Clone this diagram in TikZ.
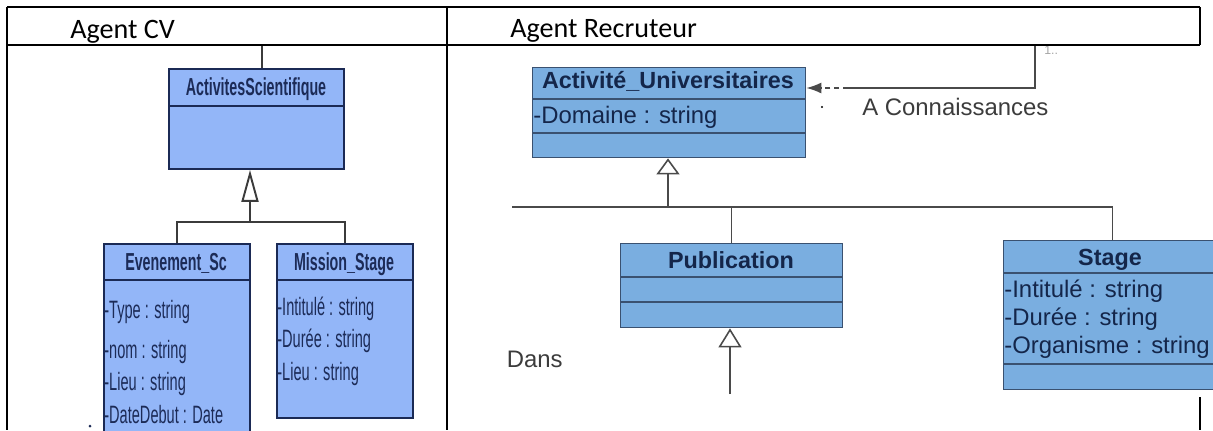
\documentclass[tikz,border=0pt]{standalone}
\usepackage{fontspec}
\setmainfont{Carlito}
\newfontfamily\umlfont{Liberation Sans}
\newfontfamily\cvfont[FakeStretch=0.58]{Liberation Sans}
\usetikzlibrary{arrows.meta}
\definecolor{cvfill}{HTML}{93B6F8}
\definecolor{cvline}{HTML}{1B2A55}
\definecolor{cvtext}{HTML}{1C2B57}
\definecolor{rfill}{HTML}{7AAEE0}
\definecolor{rline}{HTML}{3A5170}
\definecolor{rtext}{HTML}{14264A}
\definecolor{linkgray}{HTML}{4A4A4A}
\definecolor{labgray}{HTML}{3C3C3C}

\begin{document}
\begin{tikzpicture}[x=0.02cm, y=-0.02cm,
    cvbox/.style={draw=cvline, fill=cvfill, line width=1.1pt, inner sep=0pt, anchor=north west},
    cvsep/.style={draw=cvline, line width=1.1pt},
    cvtitle/.style={text=cvtext, font=\cvfont\bfseries\fontsize{14}{16}\selectfont, anchor=base, inner sep=0pt},
    cvattr/.style={text=cvtext, font=\cvfont\fontsize{14.3}{16}\selectfont, anchor=base west, inner sep=0pt},
    cvedge/.style={draw=linkgray!80!black, line width=0.9pt},
    rbox/.style={draw=rline, fill=rfill, line width=0.8pt, inner sep=0pt, anchor=north west},
    rsep/.style={draw=rline, line width=0.9pt},
    rtitle/.style={text=rtext, font=\umlfont\bfseries\fontsize{13.3}{15}\selectfont, anchor=base, inner sep=0pt},
    rattr/.style={text=rtext, font=\umlfont\fontsize{13.6}{15}\selectfont, anchor=base west, inner sep=0pt},
    redge/.style={draw=linkgray, line width=0.85pt},
    cellhead/.style={font=\fontsize{16}{19}\selectfont, anchor=base west, inner sep=0pt},
    tableline/.style={draw=black, line width=1pt}
  ]
  \useasboundingbox (0,0) rectangle (1213,430);
  \clip (0,0) rectangle (1213,430);

  % Agent CV
  \node[cvbox, minimum width=3.5cm, minimum height=2cm] (actsci) at (168,68) {};
  \draw[cvsep] (168,106) -- (343,106);
  \node[cvtitle] (actsci-t) at (256,95) {ActivitesScientifique};

  \node[cvbox, minimum width=2.92cm, minimum height=4cm] (evt) at (103,243) {};
  \draw[cvsep] (103,280) -- (249,280);
  \node[cvtitle] (evt-t) at (176,270) {Evenement\_Sc};
  \node[cvattr] (evt-a1) at (104,318) {-Type : string};
  \node[cvattr] (evt-a2) at (104,358) {-nom : string};
  \node[cvattr] (evt-a3) at (104,390) {-Lieu : string};
  \node[cvattr] (evt-a4) at (104,423) {-DateDebut : Date};

  \node[cvbox, minimum width=2.72cm, minimum height=3.48cm] (mission) at (276,243) {};
  \draw[cvsep] (276,280) -- (412,280);
  \node[cvtitle] (mission-t) at (344,270) {Mission\_Stage};
  \node[cvattr] (mission-a1) at (277,315) {-Intitulé : string};
  \node[cvattr] (mission-a2) at (277,347) {-Durée : string};
  \node[cvattr] (mission-a3) at (277,380) {-Lieu : string};

  \coordinate (cvtop) at (262,45);
  \coordinate (cvjoin) at (250,222);
  \draw[cvedge] (cvtop) -- (cvtop |- actsci.north);
  \draw[cvedge] (evt.north) |- (cvjoin) -| (mission.north);
  \draw[cvedge, line width=1.6pt, -{Triangle[open, length=0.64cm, width=0.34cm, line width=1.1pt]}] (cvjoin) -- (actsci.south -| cvjoin);
  \fill[cvline] (90,426) circle (1.5);

  % Agent Recruteur
  \node[rbox, minimum width=5.46cm, minimum height=1.8cm] (actuni) at (532,67) {};
  \draw[rsep] (532,99) -- (805,99);
  \draw[rsep] (532,133) -- (805,133);
  \node[rtitle] (actuni-t) at (668,88) {Activité\_Universitaires};
  \node[rattr] (actuni-a1) at (533,123) {-Domaine : string};

  \node[rbox, minimum width=4.44cm, minimum height=1.68cm] (pub) at (620,243) {};
  \draw[rsep] (620,277) -- (842,277);
  \draw[rsep] (620,302) -- (842,302);
  \node[rtitle] (pub-t) at (731,268) {Publication};

  \node[rbox, minimum width=4.36cm, minimum height=2.98cm] (stage) at (1003,240) {};
  \draw[rsep] (1003,273) -- (1221,273);
  \draw[rsep] (1003,364) -- (1221,364);
  \node[rtitle] (stage-t) at (1110,265) {Stage};
  \node[rattr] (stage-a1) at (1004,297) {-Intitulé : string};
  \node[rattr] (stage-a2) at (1004,325) {-Durée : string};
  \node[rattr] (stage-a3) at (1004,353) {-Organisme : string};

  \coordinate (rjoin) at (668,207);
  \coordinate (rleft) at (512,207);
  \coordinate (pubtail) at (730,394);
  \draw[redge] (rleft) -- (rjoin) -| (stage.north);
  \draw[redge] (rjoin) -| (pub.north);
  \draw[redge, -{Triangle[open, length=0.32cm, width=0.46cm, line width=0.9pt]}] (rjoin) -- (actuni.south -| rjoin);
  \draw[redge, -{Triangle[open, length=0.38cm, width=0.46cm, line width=0.9pt]}] (pubtail) -- (pub.south -| pubtail);

  \coordinate (conntop) at (1035,45);
  \coordinate (connbend) at (1035,88);
  \coordinate (conndash) at (848,88);
  \draw[redge] (conntop) -- (connbend) -- (conndash);
  \draw[redge, densely dashed, -{Latex[length=0.3cm, width=0.22cm]}] (conndash) -- (conndash -| actuni.east);
  \node[text=labgray, font=\umlfont\fontsize{13.6}{15}\selectfont, anchor=base west, inner sep=0pt] (conn-l) at (862,115) {A Connaissances};
  \node[text=linkgray!50, font=\umlfont\fontsize{7}{8}\selectfont, anchor=base west, inner sep=0pt] (conn-m) at (1044,54) {1..};
  \fill[black] (822,107) circle (1.2);
  \node[text=labgray, font=\umlfont\fontsize{13.6}{15}\selectfont, anchor=base east, inner sep=0pt] (dans) at (563,367) {Dans};

  % table
  \draw[tableline] (7,7) -- (1200,7);
  \draw[tableline] (7,45) -- (1200,45);
  \draw[tableline] (7,7) -- (7,430);
  \draw[tableline] (447,7) -- (447,430);
  \draw[tableline] (1200,7) -- (1200,45);
  \draw[tableline] (1200,397) -- (1200,430);
  \node[cellhead] (head-cv) at (70,38) {Agent CV};
  \node[cellhead] (head-rec) at (510,37) {Agent Recruteur};
\end{tikzpicture}
\end{document}
